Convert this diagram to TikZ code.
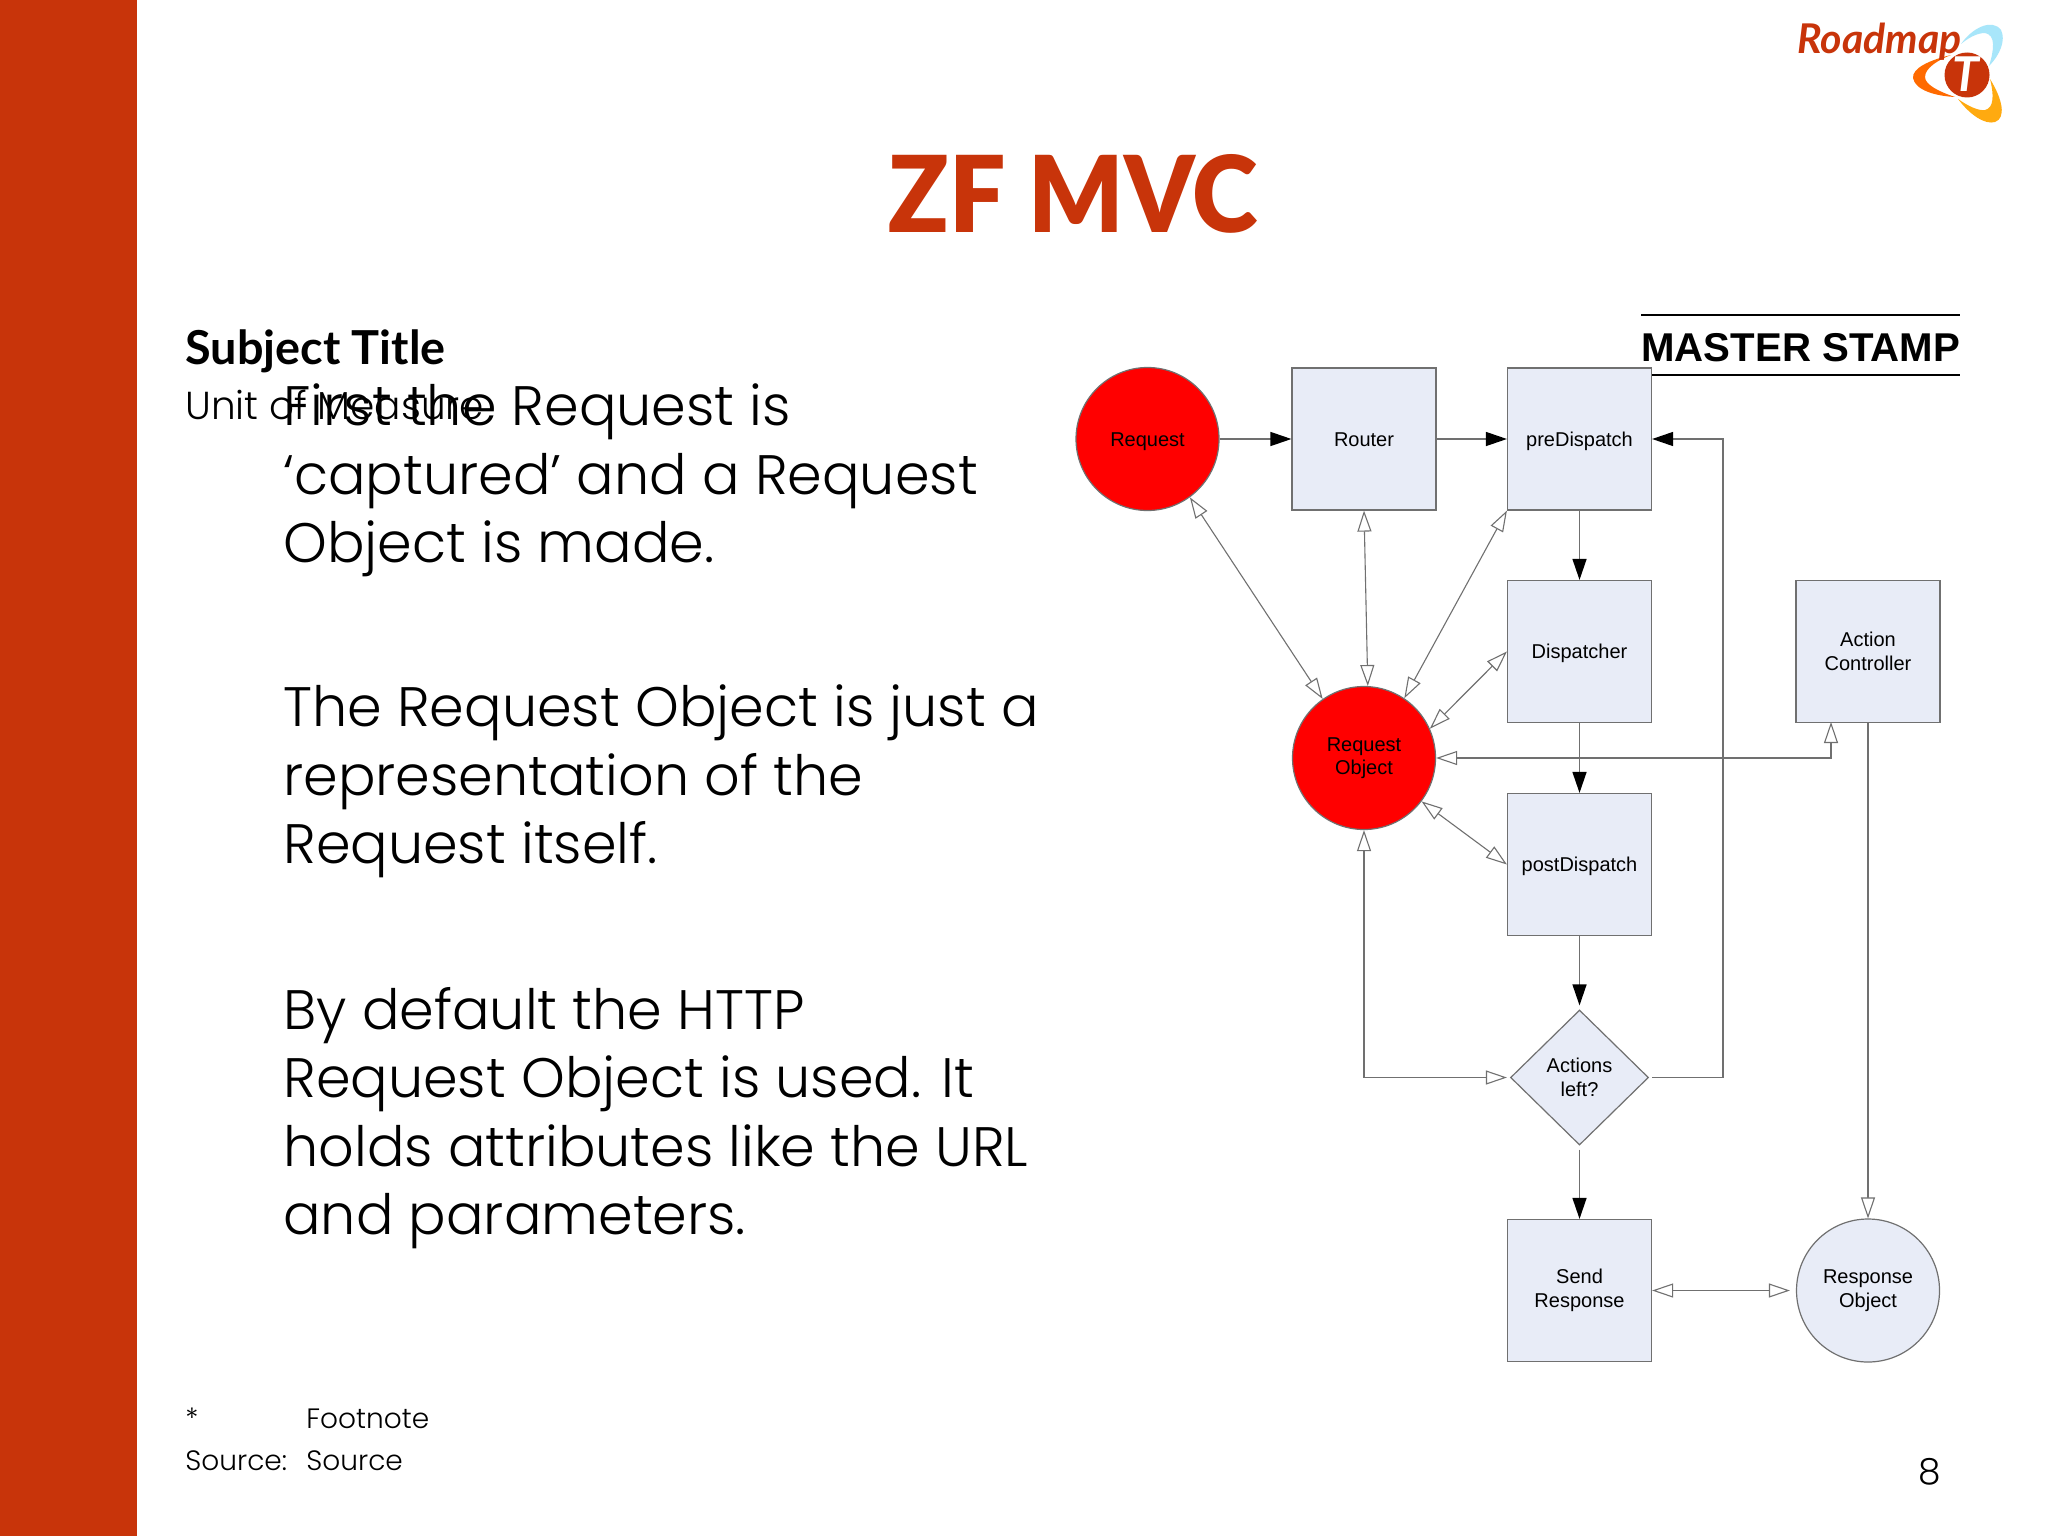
\documentclass[tikz,border=0pt]{standalone}
\usepackage{fontspec}
\setmainfont{Liberation Sans}
\newfontfamily\bodyfont[UprightFont=* Light]{Poppins}
\newfontfamily\titlefont[UprightFont=* Black,FakeStretch=0.94]{Lato}
\newfontfamily\subjectfont[UprightFont=* Bold]{Lato}
\newfontfamily\logofont[UprightFont=* Bold Italic]{Lato}
\usetikzlibrary{arrows.meta,shapes.geometric}
\definecolor{brand}{HTML}{C8340A}
\definecolor{boxfill}{HTML}{E8ECF7}
\definecolor{edge}{HTML}{707070}
\definecolor{logoblue}{HTML}{A8E6FA}
\definecolor{logoorange}{HTML}{FF6A00}
\definecolor{logoyellow}{HTML}{FFAA10}
\tikzset{
 x=0.5pt,y=-0.5pt,
 base/.style={draw=edge,line width=0.6pt,inner sep=0pt,align=center,font=\fontsize{10}{11.7}\selectfont,text=black},
 single/.style={text height=7.2pt,text depth=0pt},
 boxn/.style={base,rectangle,fill=boxfill,minimum width=72pt,minimum height=71pt},
 redc/.style={base,circle,fill=red,minimum size=71.5pt},
 bluec/.style={base,circle,fill=boxfill,minimum size=71.5pt},
 dia/.style={base,diamond,fill=boxfill,minimum width=69pt,minimum height=67.5pt},
 solidarrow/.style={draw=edge,line width=0.7pt,-{Triangle[length=10.5pt,width=7pt,color=black,fill=black]}},
 hollow/.style={draw=edge,line width=0.55pt,{Triangle[open,length=10.5pt,width=7pt,fill=white]}-{Triangle[open,length=10.5pt,width=7pt,fill=white]}},
 hollowend/.style={draw=edge,line width=0.55pt,-{Triangle[open,length=10.5pt,width=7pt,fill=white]}},
 para/.style={anchor=base west,inner sep=0pt,align=left,font=\bodyfont\fontsize{27.8}{34.15}\selectfont,text=black},
 small/.style={anchor=base west,inner sep=0pt,font=\bodyfont\fontsize{14}{18}\selectfont,text=black},
}
\begin{document}
\begin{tikzpicture}
\useasboundingbox (0,0) rectangle (2048,1536);
\fill[white] (0,0) rectangle (2048,1536);
\fill[brand] (0,0) rectangle (137,1536);
% logo
\fill[logoblue] (1961,44) .. controls (1972,28) and (1992,18) .. (2001,30) .. controls (2006,40) and (2000,55) .. (1989,66) .. controls (1994,50) and (1996,35) .. (1985,33) .. controls (1977,33) and (1968,38) .. (1961,44) -- cycle;
\fill[logoorange] (1951,55) .. controls (1930,60) and (1912,68) .. (1913,78) .. controls (1915,90) and (1935,96) .. (1955,97) .. controls (1940,92) and (1925,85) .. (1925,77) .. controls (1925,68) and (1938,60) .. (1951,55) -- cycle;
\fill[logoyellow] (1958,99) .. controls (1970,115) and (1985,125) .. (1995,122) .. controls (2006,118) and (2003,100) .. (1990,79) .. controls (1994,95) and (1994,108) .. (1985,110) .. controls (1978,111) and (1968,106) .. (1958,99) -- cycle;
\fill[brand] (1967,75) circle (22.5);
\node (logot) at (1966,74) [inner sep=0pt,text=white,font=\logofont\fontsize{24}{24}\selectfont] {T};
\node (logotext) at (1797,54) [anchor=base west,inner sep=0pt,text=brand,font=\logofont\fontsize{20.5}{21}\selectfont] {Roadmap};
% texts
\node (title) at (888,232) [anchor=base west,inner sep=0pt,text=brand,font=\titlefont\fontsize{53}{53}\selectfont] {ZF MVC};
\node (subject) at (185,364) [anchor=base west,inner sep=0pt,font=\subjectfont\fontsize{23.4}{24}\selectfont] {Subject Title};
\node (unit) at (185,419) [small,font=\bodyfont\fontsize{19.5}{20}\selectfont] {Unit of Measure};
\node (p1) at (283,562.5) [para] {First the Request is\\‘captured’ and a Request\\Object is made.};
\node (p2) at (283,863.5) [para] {The Request Object is just a\\representation of the\\Request itself.};
\node (p3) at (283,1234.5) [para] {By default the HTTP\\Request Object is used. It\\holds attributes like the URL\\and parameters.};
\node (fn1) at (185,1428) [small] {*};
\node (fn2) at (306,1428) [small] {Footnote};
\node (src1) at (185,1470) [small] {Source:};
\node (src2) at (306,1470) [small] {Source};
\node (pg) at (1930,1484) [anchor=base,inner sep=0pt,font=\bodyfont\fontsize{18}{18}\selectfont] {8};
% master stamp
\node (stamp) at (1641,361) [anchor=base west,inner sep=0pt,font=\bfseries\fontsize{20.1}{20}\selectfont] {MASTER STAMP};
\coordinate (ruleAa) at (1641,315); \coordinate (ruleAb) at (1960,315);
\coordinate (ruleBa) at (1641,375); \coordinate (ruleBb) at (1960,375);
\draw[line width=1pt] (ruleAa) -- (ruleAb);
\draw[line width=1pt] (ruleBa) -- (ruleBb);
% nodes
\node[redc,single] (req) at (1147.5,439) {Request};
\node[boxn,single] (router) at (1364,439) {Router};
\node[boxn,single] (pre) at (1579.5,439) {preDispatch};
\node[boxn,single] (disp) at (1579.5,651.5) {Dispatcher};
\node[boxn,single] (post) at (1579.5,864.5) {postDispatch};
\node[boxn] (ac) at (1868,651.5) {Action\\Controller};
\node[redc] (ro) at (1364,758) {Request\\Object};
\node[dia] (actions) at (1579.5,1077.5) {Actions\\left?};
\node[boxn] (send) at (1579.5,1290.5) {Send\\Response};
\node[bluec] (resp) at (1868,1290.5) {Response\\Object};
\coordinate (acport) at (1831,722);
\coordinate (loopx) at (1723,439);
% connectors
\draw[solidarrow] (req.east) -- (router.west);
\draw[solidarrow] (router.east) -- (pre.west);
\draw[solidarrow] (pre.south) -- (disp.north);
\draw[solidarrow] (disp.south) -- (post.north);
\draw[solidarrow,shorten >=2pt] (post.south) -- (actions.north);
\draw[solidarrow,shorten <=2pt] (actions.south) -- (send.north);
\draw[solidarrow,shorten <=1.5pt] (actions.east) -- (loopx |- actions.east) -- (loopx) -- (pre.east);
\draw[hollow] (req.-54.4) -- (ro.125.4);
\draw[hollow] (router.south) -- (ro.87);
\draw[hollow] (pre.south west) -- (ro.56.5);
\draw[hollow] (disp.west) -- (ro.24.6);
\draw[hollow] (post.west) -- (ro.-37.4);
\draw[hollow] (acport) -- (acport |- ro.east) -- (ro.east);
\draw[hollow,shorten >=1.5pt] (ro.south) -- (ro.south |- actions.west) -- (actions.west);
\draw[hollowend] (ac.south) -- (resp.north);
\draw[hollow,shorten >=3pt] (send.east) -- (resp.west);
\end{tikzpicture}
\end{document}
